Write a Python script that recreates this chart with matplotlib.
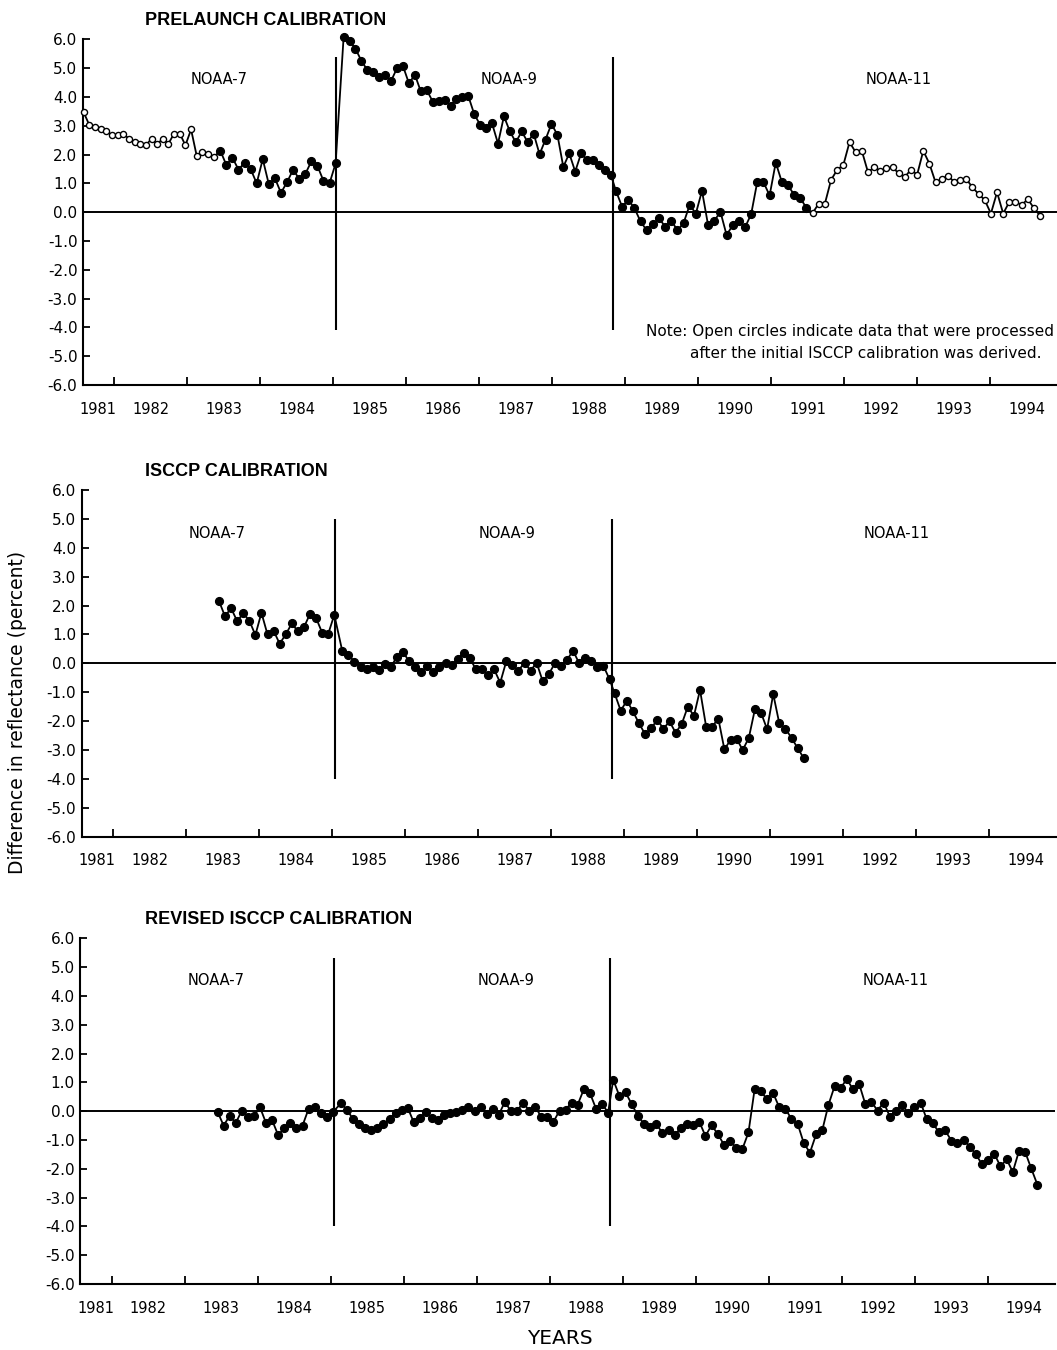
import numpy as np
import matplotlib
matplotlib.use('Agg')
import matplotlib.pyplot as plt

plt.rcParams['font.family'] = 'DejaVu Sans'
plt.rcParams['axes.unicode_minus'] = False

# monthly differences in reflectance (percent), one list per satellite record
pre_noaa7_open = [3.46, 3.02, 2.96, 2.90, 2.81, 2.67, 2.67, 2.72, 2.55, 2.44, 2.36, 2.32,
                  2.55, 2.36, 2.55, 2.38, 2.73, 2.73, 2.32, 2.87, 1.95, 2.09, 2.02, 1.90]
pre_noaa7 = [2.14, 1.64, 1.89, 1.48, 1.71, 1.50, 1.00, 1.84, 0.97, 1.18, 0.67, 1.04,
             1.47, 1.16, 1.32, 1.76, 1.61, 1.09, 1.00, 1.69]
pre_noaa9 = [6.08, 5.95, 5.67, 5.25, 4.93, 4.88, 4.70, 4.75, 4.56, 5.00, 5.07, 4.47,
             4.77, 4.19, 4.24, 3.84, 3.87, 3.89, 3.70, 3.94, 4.00, 4.03, 3.40, 3.03,
             2.92, 3.08, 2.38, 3.33, 2.80, 2.43, 2.80, 2.43, 2.73, 2.01, 2.52, 3.06,
             2.69, 1.57, 2.04, 1.41, 2.04, 1.81, 1.81, 1.64, 1.48, 1.30]
pre_noaa11 = [0.74, 0.19, 0.43, 0.14, -0.32, -0.63, -0.42, -0.21, -0.50, -0.29, -0.63, -0.38,
              0.25, -0.05, 0.74, -0.46, -0.30, 0.01, -0.79, -0.46, -0.32, -0.53, -0.07, 1.06,
              1.04, 0.58, 1.72, 1.04, 0.93, 0.60, 0.49, 0.14]
pre_noaa11_open = [-0.03, 0.30, 0.30, 1.12, 1.47, 1.64, 2.43, 2.08, 2.13, 1.39, 1.55, 1.44,
                   1.53, 1.55, 1.35, 1.22, 1.48, 1.30, 2.13, 1.68, 1.03, 1.15, 1.26, 1.06,
                   1.13, 1.15, 0.86, 0.63, 0.42, -0.05, 0.69, -0.05, 0.36, 0.36, 0.25, 0.45,
                   0.14, -0.12]

isccp_noaa7 = [2.16, 1.63, 1.91, 1.46, 1.73, 1.48, 0.98, 1.75, 1.00, 1.13, 0.68, 1.00,
               1.38, 1.11, 1.25, 1.71, 1.57, 1.06, 1.02, 1.68]
isccp_noaa9 = [0.42, 0.30, 0.05, -0.12, -0.21, -0.12, -0.23, -0.02, -0.12, 0.23, 0.39, 0.07,
               -0.12, -0.30, -0.09, -0.30, -0.12, 0.00, -0.07, 0.16, 0.37, 0.18, -0.21, -0.21,
               -0.42, -0.21, -0.67, 0.07, -0.07, -0.25, 0.02, -0.25, 0.02, -0.62, -0.37, 0.00,
               -0.09, 0.12, 0.44, 0.00, 0.18, 0.07, -0.12, -0.09, -0.55]
isccp_noaa11 = [-1.04, -1.64, -1.29, -1.66, -2.08, -2.45, -2.24, -1.96, -2.26, -2.01, -2.40, -2.10,
                -1.50, -1.82, -0.92, -2.19, -2.19, -1.91, -2.98, -2.65, -2.61, -3.00, -2.58, -1.59,
                -1.71, -2.28, -1.06, -2.08, -2.26, -2.58, -2.93, -3.28]

rev_noaa7 = [-0.02, -0.50, -0.16, -0.41, 0.02, -0.19, -0.16, 0.13, -0.42, -0.32, -0.84, -0.58,
             -0.41, -0.60, -0.50, 0.08, 0.13, -0.07, -0.21, -0.03]
rev_noaa9 = [0.27, 0.05, -0.28, -0.46, -0.58, -0.67, -0.58, -0.46, -0.28, -0.05, 0.05, 0.12,
             -0.39, -0.25, -0.02, -0.25, -0.32, -0.14, -0.07, -0.02, 0.05, 0.16, 0.02, 0.14,
             -0.09, 0.09, -0.12, 0.32, 0.00, 0.00, 0.30, 0.02, 0.16, -0.21, -0.21, -0.37,
             0.02, 0.05, 0.30, 0.23, 0.76, 0.63, 0.09, 0.25, -0.05]
rev_noaa11 = [1.09, 0.53, 0.65, 0.25, -0.16, -0.44, -0.56, -0.44, -0.76, -0.67, -0.83, -0.58,
              -0.46, -0.49, -0.37, -0.86, -0.49, -0.79, -1.16, -1.04, -1.27, -1.32, -0.74, 0.76,
              0.69, 0.42, 0.63, 0.14, 0.09, -0.28, -0.44, -1.11, -1.44, -0.81, -0.67, 0.21,
              0.86, 0.81, 1.11, 0.76, 0.95, 0.25, 0.32, 0.02, 0.30, -0.19, 0.02, 0.21,
              -0.05, 0.14, 0.30, -0.28, -0.42, -0.74, -0.67, -1.02, -1.09, -0.99, -1.23, -1.50,
              -1.85, -1.69, -1.48, -1.92, -1.67, -2.11, -1.39, -1.41, -1.99, -2.55]

# first and last month (decimal years) of each record
span_noaa7_early = (1981.58, 1983.36)
span_noaa7 = (1983.45, 1985.03)
span_noaa9 = (1985.14, 1988.80)
span_noaa11 = (1988.87, 1994.68)
span_noaa11_isccp = (1988.87, 1991.46)

sat_change = [1985.04, 1988.83]
satellites = ['NOAA-7', 'NOAA-9', 'NOAA-11']
sat_label_x = [1983.43, 1987.40, 1992.74]
year_labels = [str(y) for y in range(1981, 1995)]


def months(span, n):
    return np.linspace(span[0], span[1], n)


fig = plt.figure(figsize=(10.57, 13.5), dpi=100)
W, H = 1057.0, 1350.0


def panel(left_px, top_px, bottom_px, title, xs, ys, is_open, sep_top, sep_bottom, label_y,
          open_ms=4.4):
    ax = fig.add_axes([left_px / W, 1 - bottom_px / H, 974.6 / W, (bottom_px - top_px) / H])
    xs = np.asarray(xs)
    ys = np.asarray(ys)
    is_open = np.asarray(is_open)

    ax.axhline(0, color='black', lw=1.4, zorder=2)
    ax.vlines(sat_change, sep_bottom, sep_top, color='black', lw=1.5, zorder=2)
    ax.plot(xs, ys, color='black', lw=1.3, zorder=3, clip_on=False)
    ax.plot(xs[~is_open], ys[~is_open], 'o', ms=5.6, mfc='black', mec='black',
            zorder=4, clip_on=False)
    if is_open.any():
        ax.plot(xs[is_open], ys[is_open], 'o', ms=open_ms, mfc='white', mec='black',
                mew=1.0, zorder=4, clip_on=False)

    for name, lx in zip(satellites, sat_label_x):
        ax.text(lx, label_y, name, ha='center', va='center', fontsize=10.5)

    ax.set_xlim(1981.57, 1994.92)
    ax.set_ylim(-6, 6)
    ticks = np.arange(-6, 7)
    ax.set_yticks(ticks)
    ax.set_yticklabels([f'{v:.1f}' for v in ticks])
    ax.tick_params(axis='y', direction='in', length=5, width=1.3, pad=4, labelsize=11)

    ax.set_xticks(np.arange(1982, 1995))
    ax.set_xticklabels([])
    ax.tick_params(axis='x', which='major', direction='in', length=6, width=1.3)
    ax.set_xticks([1981.78] + [y + 0.5 for y in range(1982, 1995)], minor=True)
    ax.set_xticklabels(year_labels, minor=True)
    ax.tick_params(axis='x', which='minor', length=0, pad=12, labelsize=10.5)

    for side in ('top', 'right'):
        ax.spines[side].set_visible(False)
    for side in ('left', 'bottom'):
        ax.spines[side].set_linewidth(1.5)

    fig.text(145 / W, 1 - (top_px - 19) / H, title, ha='left', va='center',
             fontsize=13, fontweight='bold', family='Liberation Sans')
    return ax


# prelaunch calibration: open circles for the early NOAA-7 and late NOAA-11 months
x11 = months(span_noaa11, len(pre_noaa11) + len(pre_noaa11_open))
xs = np.concatenate([months(span_noaa7_early, len(pre_noaa7_open)),
                     months(span_noaa7, len(pre_noaa7)),
                     months(span_noaa9, len(pre_noaa9)),
                     x11])
ys = pre_noaa7_open + pre_noaa7 + pre_noaa9 + pre_noaa11 + pre_noaa11_open
is_open = ([True] * len(pre_noaa7_open) + [False] * (len(pre_noaa7) + len(pre_noaa9) + len(pre_noaa11))
           + [True] * len(pre_noaa11_open))
panel(83, 39.3, 385, 'PRELAUNCH CALIBRATION', xs, ys, is_open, 5.38, -4.1, 4.6)

fig.text(1054 / W, 1 - 332 / H, 'Note: Open circles indicate data that were processed',
         ha='right', va='center', fontsize=11)
fig.text(1041 / W, 1 - 354 / H, 'after the initial ISCCP calibration was derived.',
         ha='right', va='center', fontsize=11)

# ISCCP calibration
xs = np.concatenate([months(span_noaa7, len(isccp_noaa7)),
                     months(span_noaa9, len(isccp_noaa9)),
                     months(span_noaa11_isccp, len(isccp_noaa11))])
ys = isccp_noaa7 + isccp_noaa9 + isccp_noaa11
panel(81.7, 490, 836.7, 'ISCCP CALIBRATION', xs, ys, [False] * len(ys), 5.0, -4.0, 4.5)

# revised ISCCP calibration
xs = np.concatenate([months(span_noaa7, len(rev_noaa7)),
                     months(span_noaa9, len(rev_noaa9)),
                     months(span_noaa11, len(rev_noaa11))])
ys = rev_noaa7 + rev_noaa9 + rev_noaa11
panel(80.3, 938.3, 1284, 'REVISED ISCCP CALIBRATION', xs, ys, [False] * len(ys), 5.3, -4.0, 4.55)

fig.text(18 / W, 1 - 712 / H, 'Difference in reflectance (percent)', rotation=90,
         ha='center', va='center', fontsize=13.5)
fig.text(560 / W, 1 - 1339 / H, 'YEARS', ha='center', va='center', fontsize=14.5)

fig.savefig('out.png', dpi=100)
